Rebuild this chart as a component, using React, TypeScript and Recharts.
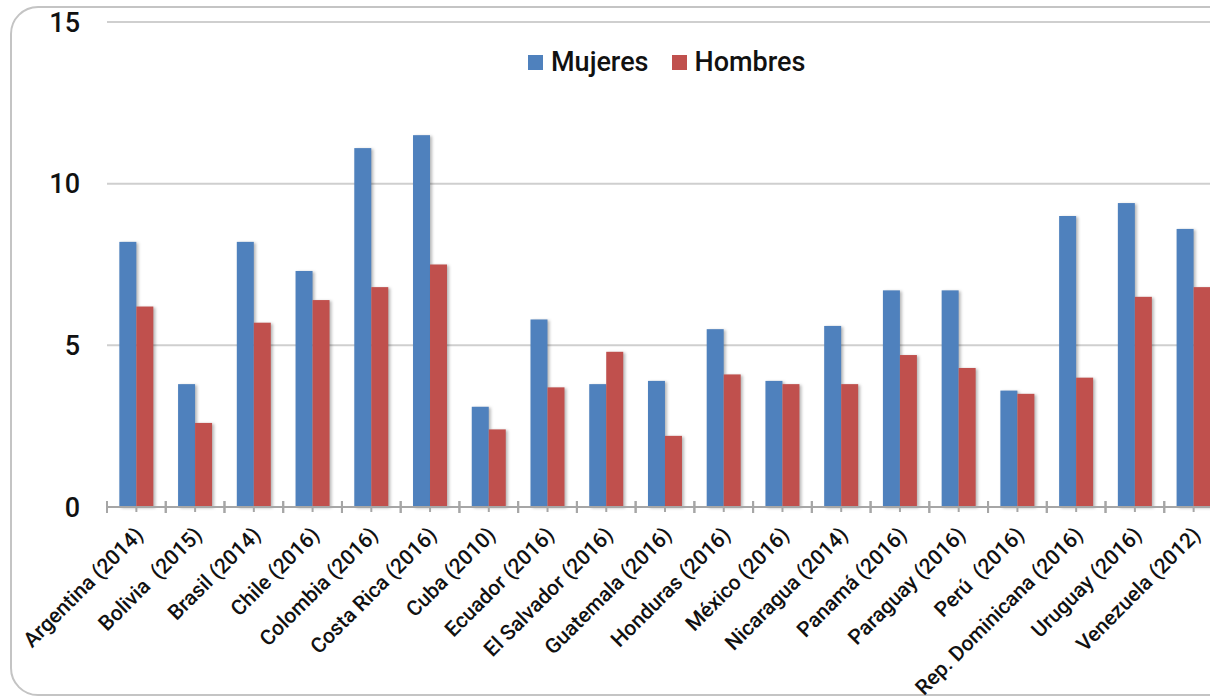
import { BarChart, Bar, XAxis, YAxis, CartesianGrid, Legend } from "recharts";

const countries = [
  "Argentina (2014)",
  "Bolivia  (2015)",
  "Brasil (2014)",
  "Chile (2016)",
  "Colombia (2016)",
  "Costa Rica (2016)",
  "Cuba (2010)",
  "Ecuador (2016)",
  "El Salvador (2016)",
  "Guatemala (2016)",
  "Honduras (2016)",
  "México (2016)",
  "Nicaragua (2014)",
  "Panamá (2016)",
  "Paraguay (2016)",
  "Perú  (2016)",
  "Rep. Dominicana (2016)",
  "Uruguay (2016)",
  "Venezuela (2012)",
];
const mujeres = [8.2, 3.8, 8.2, 7.3, 11.1, 11.5, 3.1, 5.8, 3.8, 3.9, 5.5, 3.9, 5.6, 6.7, 6.7, 3.6, 9.0, 9.4, 8.6];
const hombres = [6.2, 2.6, 5.7, 6.4, 6.8, 7.5, 2.4, 3.7, 4.8, 2.2, 4.1, 3.8, 3.8, 4.7, 4.3, 3.5, 4.0, 6.5, 6.8];
const yTicks = [0, 5, 10, 15];
const seriesOrder = ["Mujeres", "Hombres"];

const data = countries.map((pais, i) => ({ pais, mujeres: mujeres[i], hombres: hombres[i] }));

const FONT = "Roboto, 'DejaVu Sans', sans-serif";
const BLUE = "#4F81BD";
const RED = "#C0504D";
const AXIS = "#a6a6a6";

function ShadowBar(props: any) {
  const { x, y, width, height, fill } = props;
  if (!height || height <= 0) return null;
  return (
    <rect
      x={x}
      y={y}
      width={width}
      height={height}
      fill={fill}
      style={{ filter: "drop-shadow(2px 1px 1.5px rgba(0,0,0,0.28))" }}
    />
  );
}

function CountryTick(props: any) {
  const { x, y, payload } = props;
  const half = payload?.offset ?? 29.35;
  const tx = x + 8;
  const ty = y + 29;
  return (
    <g>
      <line x1={x - half} x2={x - half} y1={y - 6} y2={y + 6} stroke={AXIS} strokeWidth={2} />
      <line x1={x + half} x2={x + half} y1={y - 6} y2={y + 6} stroke={AXIS} strokeWidth={2} />
      <line x1={x} x2={x} y1={y} y2={y + 5} stroke={AXIS} strokeWidth={2} />
      <text
        x={tx}
        y={ty}
        transform={`rotate(-45, ${tx}, ${ty})`}
        textAnchor="end"
        fill="#111"
        fontSize={21}
        fontWeight={500}
        fontFamily={FONT}
        style={{ whiteSpace: "pre" }}
      >
        {payload.value}
      </text>
    </g>
  );
}

function LegendContent(props: any) {
  const items = [...(props.payload || [])].sort(
    (a: any, b: any) => seriesOrder.indexOf(a.value) - seriesOrder.indexOf(b.value)
  );
  return (
    <div style={{ display: "flex", alignItems: "center", fontFamily: FONT }}>
      {items.map((it: any, i: number) => (
        <div key={it.value} style={{ display: "flex", alignItems: "center", marginLeft: i === 0 ? 0 : 23 }}>
          <span style={{ width: 15, height: 15, background: it.color, display: "inline-block", marginRight: 8 }} />
          <span style={{ fontSize: 27, fontWeight: 500, color: "#111" }}>{it.value}</span>
        </div>
      ))}
    </div>
  );
}

export default function App() {
  return (
    <div
      style={{
        position: "fixed",
        left: 0,
        top: 0,
        width: 1210,
        height: 699,
        overflow: "hidden",
        background: "#fff",
      }}
    >
      <div
        style={{
          position: "absolute",
          left: 10,
          top: 6,
          width: 1320,
          height: 690,
          border: "2px solid #c4c4c4",
          borderRadius: 28,
          boxSizing: "border-box",
        }}
      />
      <div style={{ position: "absolute", left: 0, top: 0 }}>
        <BarChart
          width={1240}
          height={699}
          data={data}
          margin={{ top: 22, right: 17, left: 0, bottom: 0 }}
          barCategoryGap="21%"
          barGap={0}
        >
          <CartesianGrid vertical={false} stroke="#cfcfcf" strokeWidth={2} />
          <XAxis
            dataKey="pais"
            interval={0}
            height={192}
            tickLine={false}
            tickSize={0}
            tickMargin={0}
            axisLine={{ stroke: AXIS, strokeWidth: 2 }}
            tick={<CountryTick />}
          />
          <YAxis
            domain={[0, 15]}
            ticks={yTicks}
            width={107}
            axisLine={false}
            tickLine={false}
            tickSize={0}
            tickMargin={27}
            tick={{ fill: "#111", fontSize: 27, fontWeight: 500, fontFamily: FONT }}
          />
          <Legend
            layout="horizontal"
            verticalAlign="middle"
            align="center"
            wrapperStyle={{ top: 46, left: 528, width: "auto" }}
            content={<LegendContent />}
          />
          <Bar dataKey="mujeres" name="Mujeres" fill={BLUE} shape={<ShadowBar />} isAnimationActive={false} />
          <Bar dataKey="hombres" name="Hombres" fill={RED} shape={<ShadowBar />} isAnimationActive={false} />
        </BarChart>
      </div>
    </div>
  );
}
